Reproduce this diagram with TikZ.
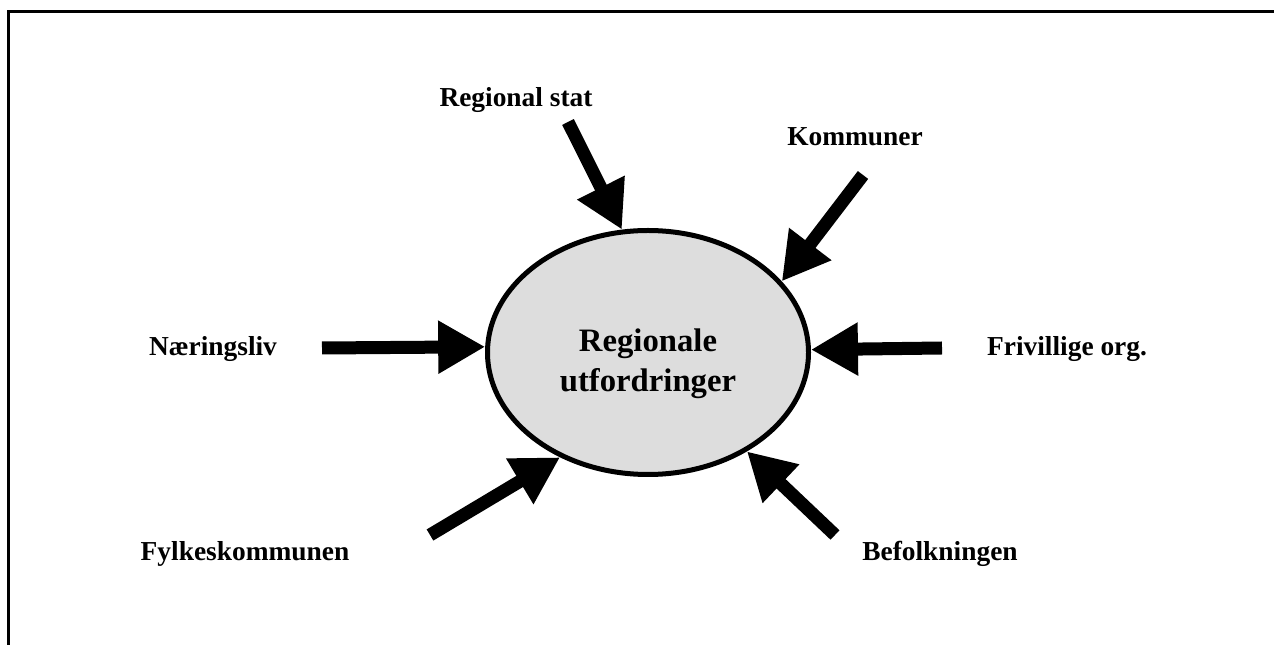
\documentclass[tikz,border=0pt]{standalone}
\usepackage{fontspec}
\setmainfont{Liberation Serif}
\usetikzlibrary{arrows.meta,shapes.geometric}
\definecolor{hubfill}{HTML}{DDDDDD}
\tikzset{
  frameline/.style={line width=3pt},
  hub/.style={ellipse, draw, line width=5pt, fill=hubfill,
    minimum width=321pt, minimum height=244pt, inner sep=0pt, outer sep=2.5pt},
  hubtext/.style={font=\bfseries\fontsize{32.7}{40}\selectfont, align=center, inner sep=0pt},
  actor/.style={font=\bfseries\fontsize{27.4}{33}\selectfont, anchor=base, inner sep=0pt},
  influence/.style={line width=13pt, -{Triangle[width=50pt,length=47pt]}}
}
\begin{document}
\begin{tikzpicture}[x=1pt,y=1pt]
\useasboundingbox (0,0) rectangle (1274,645);

% partial frame: top and left edges
\draw[frameline] (8,0) -- (8,633) -- (1274,633);

% central ellipse
\node[hub] (ell) at (648,292.5) {};
\node[hubtext] (title) at (648,281) {Regionale\\utfordringer};

% actor labels
\node[actor] (rs)   at (516,538) {Regional stat};
\node[actor] (kom)  at (855,499) {Kommuner};
\node[actor] (naer) at (213,289) {Næringsliv};
\node[actor] (friv) at (1067,289) {Frivillige org.};
\node[actor] (fylk) at (245,84) {Fylkeskommunen};
\node[actor] (bef)  at (940,84) {Befolkningen};

% arrow tails
\coordinate (rsT)   at (568,523);
\coordinate (komT)  at (863,470);
\coordinate (naerT) at (322,297);
\coordinate (frivT) at (942,297);
\coordinate (fylkT) at (430,110);
\coordinate (befT)  at (835,110);

% influences pointing at the ellipse
\draw[influence] (rsT)   -- (ell.102.6);
\draw[influence] (komT)  -- (ell.28.9);
\draw[influence] (naerT) -- (ell.178.6);
\draw[influence] (frivT) -- (ell.1.4);
\draw[influence] (fylkT) -- (ell.230.3);
\draw[influence] (befT)  -- (ell.-45);
\end{tikzpicture}
\end{document}
